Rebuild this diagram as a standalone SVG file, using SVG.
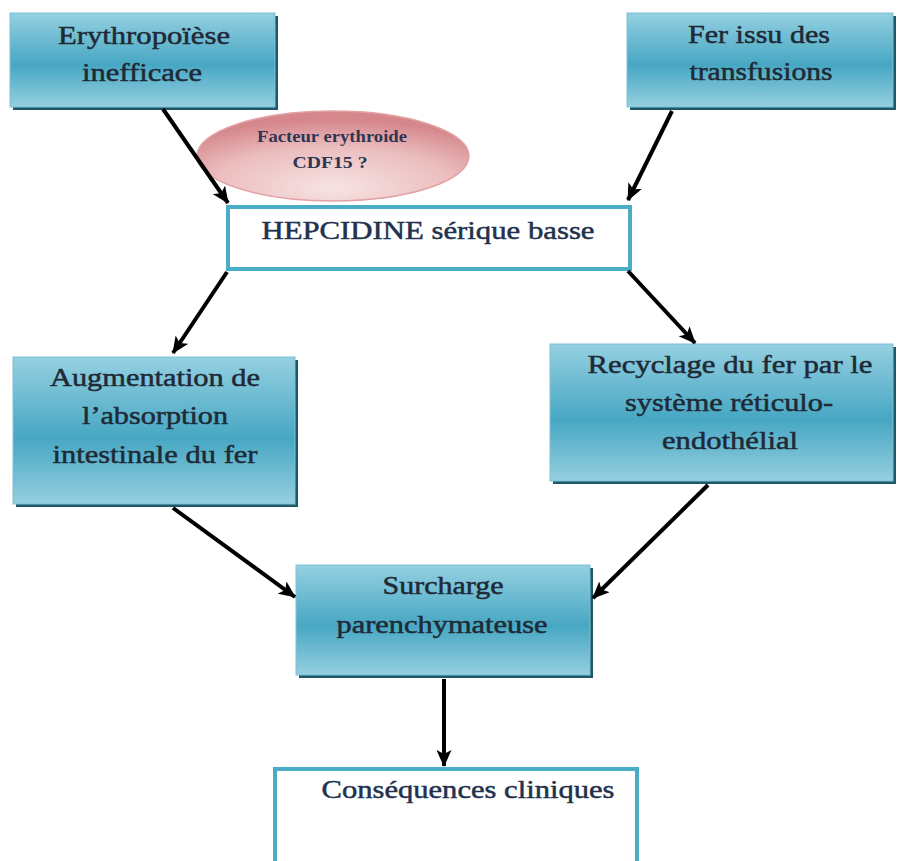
<svg xmlns="http://www.w3.org/2000/svg" width="900" height="861" viewBox="0 0 900 861">
<defs>
<linearGradient id="teal" x1="0" y1="0" x2="0" y2="1">
<stop offset="0" stop-color="#95d0e1"/>
<stop offset="0.55" stop-color="#47a7c3"/>
<stop offset="1" stop-color="#95cfe0"/>
</linearGradient>
<radialGradient id="pink" cx="0.5" cy="0.85" r="0.75">
<stop offset="0" stop-color="#f7e3e3"/>
<stop offset="0.6" stop-color="#ebbdbe"/>
<stop offset="1" stop-color="#d5878c"/>
</radialGradient>
<marker id="arr" markerWidth="17" markerHeight="15" refX="16" refY="7.5" orient="auto" markerUnits="userSpaceOnUse">
<path d="M0,0 L17,7.5 L0,15 L4,7.5 Z" fill="#000"/>
</marker>
<style>
.shadow{fill:#1f5868}
.box{fill:url(#teal);stroke:#7cc2d6;stroke-width:1}
.wbox{fill:#fff;stroke:#4bacc6;stroke-width:4}
.t{font-family:"Liberation Serif","Times New Roman",serif;font-size:26px;fill:#1e2a36;stroke:#1e2a36;stroke-width:0.5;text-anchor:middle}
.h{fill:#22314d;stroke:#22314d}
.s{font-size:16px;font-weight:bold;fill:#2f3654;stroke:none}
.c{stroke:#000;stroke-width:4;fill:none;marker-end:url(#arr)}
</style>
</defs>
<rect width="900" height="861" fill="#fff"/>

<g id="erythropoiese">
<rect class="shadow" x="13" y="16" width="265" height="94"/>
<rect class="box" x="10" y="13" width="265" height="94"/>
<text class="t" x="144" y="44" textLength="172" lengthAdjust="spacingAndGlyphs">Erythropoïèse</text>
<text class="t" x="142" y="81" textLength="120" lengthAdjust="spacingAndGlyphs">inefficace</text>
</g>

<g id="transfusions">
<rect class="shadow" x="630" y="16" width="266" height="94"/>
<rect class="box" x="627" y="13" width="266" height="94"/>
<text class="t" x="759" y="43" textLength="142" lengthAdjust="spacingAndGlyphs">Fer issu des</text>
<text class="t" x="761" y="80" textLength="143" lengthAdjust="spacingAndGlyphs">transfusions</text>
</g>

<g id="facteur">
<ellipse cx="333" cy="156" rx="136" ry="45" fill="url(#pink)" stroke="#e3a2a5" stroke-width="1.5"/>
<text class="t s" x="332" y="142" textLength="150" lengthAdjust="spacingAndGlyphs">Facteur erythroide</text>
<text class="t s" x="330" y="168" textLength="75" lengthAdjust="spacingAndGlyphs">CDF15 ?</text>
</g>

<g id="hepcidine">
<rect class="wbox" x="228" y="207" width="402" height="62"/>
<text class="t h" x="428" y="239" textLength="333" lengthAdjust="spacingAndGlyphs">HEPCIDINE sérique basse</text>
</g>

<g id="absorption">
<rect class="shadow" x="16" y="360" width="282" height="147"/>
<rect class="box" x="13" y="357" width="282" height="147"/>
<text class="t" x="155" y="386" textLength="210" lengthAdjust="spacingAndGlyphs">Augmentation de</text>
<text class="t" x="155" y="424" textLength="146" lengthAdjust="spacingAndGlyphs">l’absorption</text>
<text class="t" x="155" y="463" textLength="205" lengthAdjust="spacingAndGlyphs">intestinale du fer</text>
</g>

<g id="recyclage">
<rect class="shadow" x="553" y="347" width="343" height="137"/>
<rect class="box" x="550" y="344" width="343" height="137"/>
<text class="t" x="730" y="373" textLength="285" lengthAdjust="spacingAndGlyphs">Recyclage du fer par le</text>
<text class="t" x="729" y="411" textLength="208" lengthAdjust="spacingAndGlyphs">système réticulo-</text>
<text class="t" x="730" y="449" textLength="136" lengthAdjust="spacingAndGlyphs">endothélial</text>
</g>

<g id="surcharge">
<rect class="shadow" x="299" y="568" width="294" height="110"/>
<rect class="box" x="296" y="565" width="294" height="110"/>
<text class="t" x="443" y="594" textLength="121" lengthAdjust="spacingAndGlyphs">Surcharge</text>
<text class="t" x="442" y="633" textLength="211" lengthAdjust="spacingAndGlyphs">parenchymateuse</text>
</g>

<g id="consequences">
<rect class="wbox" x="275" y="769" width="362" height="110"/>
<text class="t h" x="468" y="798" textLength="293" lengthAdjust="spacingAndGlyphs">Conséquences cliniques</text>
</g>

<g id="connectors">
<line class="c" x1="163" y1="109" x2="228" y2="203"/>
<line class="c" x1="672" y1="111" x2="628" y2="200"/>
<line class="c" x1="227" y1="272" x2="173" y2="353"/>
<line class="c" x1="628" y1="271" x2="695" y2="343"/>
<line class="c" x1="173" y1="508" x2="295" y2="597"/>
<line class="c" x1="708" y1="485" x2="593" y2="598"/>
<line class="c" x1="444" y1="679" x2="444" y2="766"/>
</g>
</svg>
